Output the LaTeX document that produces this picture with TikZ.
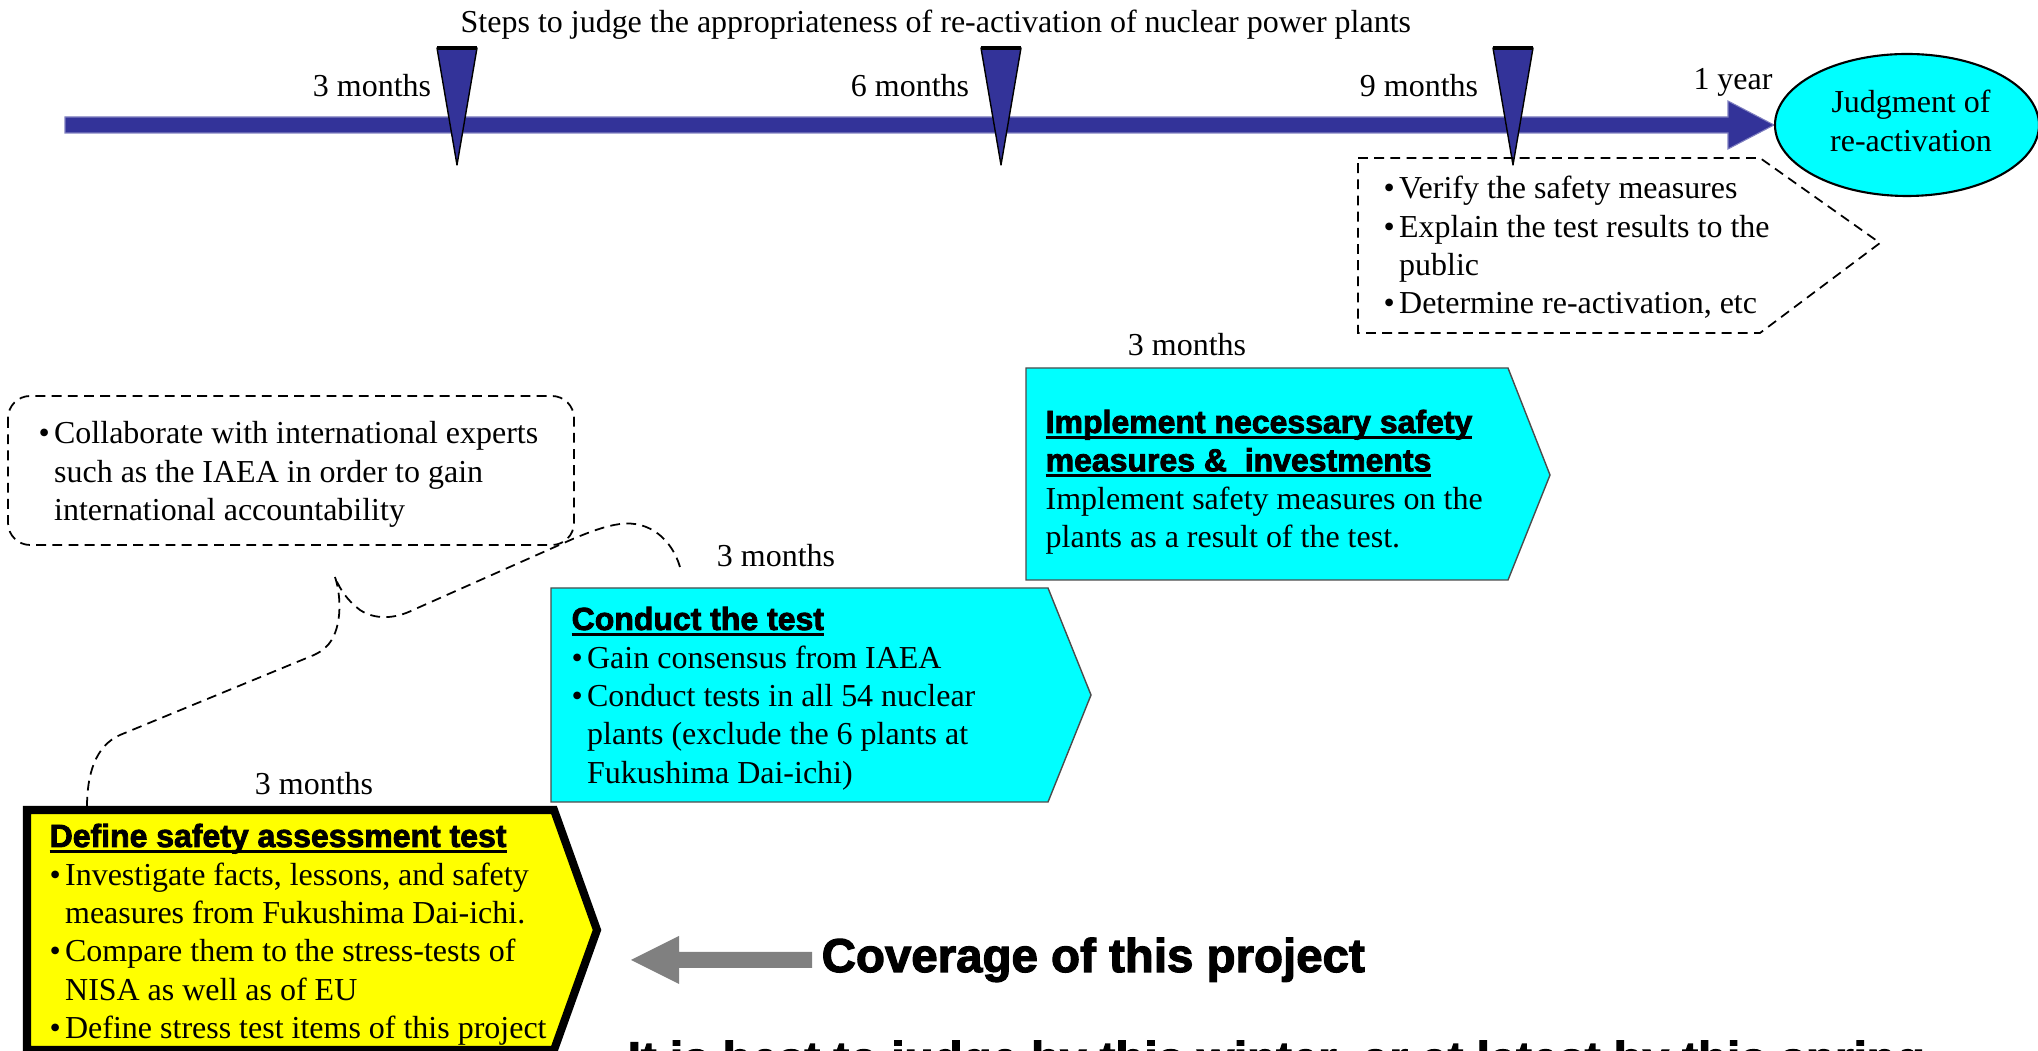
\documentclass[tikz,border=0pt]{standalone}
\usepackage{fontspec}
\setmainfont{Liberation Serif}
\newfontfamily\hvy[UprightFont={* Bold},UprightFeatures={FakeBold=2.5}]{Liberation Sans}
\definecolor{navy}{HTML}{333399}
\definecolor{navyedge}{HTML}{8080C0}
\definecolor{cyanbox}{HTML}{00FFFF}
\definecolor{yel}{HTML}{FFFF00}
\definecolor{arrgray}{HTML}{808080}
\newcommand\bodyfont{\fontsize{9.1pt}{10.9pt}\selectfont}
\newcommand\headfont{\hvy\fontsize{9.1pt}{10.9pt}\selectfont}
\newcommand\bigfont{\hvy\fontsize{13.5pt}{16pt}\selectfont}
\newcommand\bul{\makebox[4.4pt][l]{•}}
\newcommand\ind{\hspace*{4.4pt}}
\newsavebox\ulbox
\newcommand\ulh[1]{\leavevmode\sbox\ulbox{#1}\rlap{\rule[-1.6pt]{\wd\ulbox}{0.75pt}}\usebox\ulbox}
\begin{document}
\begin{tikzpicture}[x=0.1mm,y=-0.1mm,
  txt/.style={inner sep=0pt, anchor=base west, font=\bodyfont},
  ctxt/.style={inner sep=0pt, anchor=base, font=\bodyfont},
  dashbox/.style={draw=black, line width=0.5pt, dash pattern=on 2.8pt off 1.8pt},
  phase/.style={fill=cyanbox, draw=black!70, line width=0.4pt},
  marker/.style={fill=navy, draw=black, line width=0.4pt, line join=round},
  markertop/.style={draw=black, line width=1pt}]
\useasboundingbox (0,0) rectangle (2038,1051);
\clip (0,0) rectangle (2038,1051);

% title
\node[txt] (title) at (460,33) {Steps to judge the appropriateness of re-activation of nuclear power plants};

% timeline
\coordinate (barstart) at (65,125);
\coordinate (bartip) at (1774,125);
\fill[navy, draw=navyedge, line width=0.3pt] (65,117) -- (1728,117) -- (1728,101) -- (bartip) -- (1728,149) -- (1728,133) -- (65,133) -- cycle;

% markers
\foreach \mx/\nm in {457/mA, 1001/mB, 1513/mC}{
  \coordinate (\nm) at (\mx,165);
  \draw[marker] (\mx-20,48) -- (\mx+20,48) -- (\nm) -- cycle;
  \draw[markertop] (\mx-20,48) -- (\mx+20,48);
}
\node[ctxt] (l3) at (372,97) {3 months};
\node[ctxt] (l6) at (910,97) {6 months};
\node[ctxt] (l9) at (1419,97) {9 months};
\node[ctxt] (l12) at (1733,90) {1 year};

% judgment ellipse
\draw[fill=cyanbox, draw=black, line width=0.6pt] (1907,125) ellipse [x radius=13.2mm, y radius=7.1mm];
\node[ctxt] (judg) at (1911,113) {\parbox[t]{60mm}{\centering Judgment of\\re-activation}};

% verify dashed pentagon
\draw[dashbox] (1358,158) -- (1760,158) -- (1880,243) -- (1760,333) -- (1358,333) -- cycle;
\node[txt] (verify) at (1383,199) {\parbox[t]{120mm}{\bul Verify the safety measures\\
\bul Explain the test results to the\\
\ind public\\
\bul Determine re-activation, etc}};

% implement box
\node[ctxt] (l3c) at (1187,356) {3 months};
\draw[phase] (1026,368) -- (1508,368) -- (1550,475) -- (1508,580) -- (1026,580) -- cycle;
\node[txt] (impl) at (1045,433) {\parbox[t]{150mm}{{\headfont\ulh{Implement necessary safety}\\
\ulh{measures \&\ \ investments}}\\
Implement safety measures on the\\
plants as a result of the test.}};

% collaborate callout
\draw[dashbox, rounded corners=6.3pt] (8,396) rectangle (574,545);
\node[txt] (collab) at (38,444) {\parbox[t]{150mm}{\bul Collaborate with international experts\\
\ind such as the IAEA in order to gain\\
\ind international accountability}};

% brace
\coordinate (braceA) at (680,567);
\coordinate (braceTip) at (335,577);
\coordinate (braceB) at (87,807);
\draw[dashbox] (braceA) .. controls (672,540) and (650,520) .. (620,524)
  .. controls (605,526) and (590,532) .. (575,538) -- (413,610)
  .. controls (395,619) and (375,620) .. (360,610)
  .. controls (348,601) and (340,590) .. (braceTip);
\draw[dashbox] (braceTip) .. controls (342,598) and (342,632) .. (326,647)
  .. controls (322,651) and (318,653) .. (314,655) -- (120,735)
  .. controls (95,746) and (87,775) .. (braceB);

% conduct box
\node[ctxt] (l3b) at (776,567) {3 months};
\draw[phase] (551,588) -- (1048,588) -- (1091,695) -- (1048,802) -- (551,802) -- cycle;
\node[txt] (cond) at (571,630) {\parbox[t]{150mm}{{\headfont\ulh{Conduct the test}}\\
\bul Gain consensus from IAEA\\
\bul Conduct tests in all 54 nuclear\\
\ind plants (exclude the 6 plants at\\
\ind Fukushima Dai-ichi)}};

% define box
\node[ctxt] (l3a) at (314,795) {3 months};
\draw[fill=yel, draw=black, line width=2.3pt, line join=miter] (27,810) -- (554,810) -- (597,930) -- (554,1050) -- (27,1050) -- cycle;
\node[txt] (defn) at (49,847) {\parbox[t]{150mm}{{\headfont\ulh{Define safety assessment test}}\\
\bul Investigate facts, lessons, and safety\\
\ind measures from Fukushima Dai-ichi.\\
\bul Compare them to the stress-tests of\\
\ind NISA as well as of EU\\
\bul Define stress test items of this project}};

% coverage arrow
\coordinate (covtip) at (631,960);
\fill[arrgray] (812,952) -- (679,952) -- (679,936) -- (covtip) -- (679,984) -- (679,968) -- (812,968) -- cycle;
\node[inner sep=0pt, anchor=base west, font=\bigfont] (cov) at (821,972) {Coverage of this project};
\node[inner sep=0pt, anchor=base west, font=\bigfont] (best) at (627,1075) {It is best to judge by this winter, or at latest by this spring};
\end{tikzpicture}
\end{document}
